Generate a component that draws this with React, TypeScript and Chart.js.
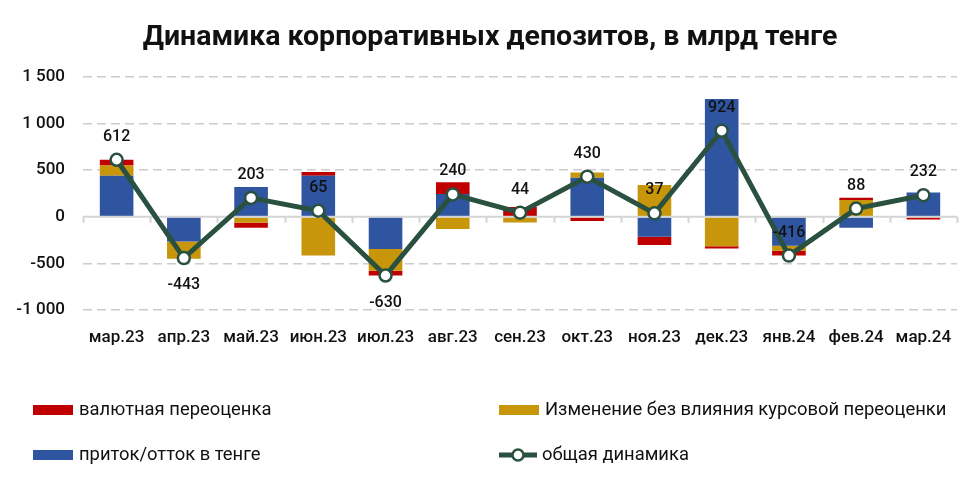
import React, { useEffect, useRef } from 'react';
import { Chart, registerables } from 'chart.js';

Chart.register(...registerables);

const chartTitle = 'Динамика корпоративных депозитов, в млрд тенге';
const categories = ['мар.23', 'апр.23', 'май.23', 'июн.23', 'июл.23', 'авг.23', 'сен.23', 'окт.23', 'ноя.23', 'дек.23', 'янв.24', 'фев.24', 'мар.24'];
const inflowKzt = [440, -265, 320, 440, -345, 245, 4, 420, -215, 1265, -310, -117, 262];
const changeExFx = [110, -185, -65, -415, -235, -130, -60, 55, 340, -315, -55, 180, 0];
const fxRevaluation = [62, 7, -52, 40, -50, 125, 100, -45, -88, -26, -51, 25, -30];
const totalDynamics = [612, -443, 203, 65, -630, 240, 44, 430, 37, 924, -416, 88, 232];
const labelBelow = [false, true, false, false, true, false, false, false, false, false, false, false, false];
const seriesNames = ['приток/отток в тенге', 'Изменение без влияния курсовой переоценки', 'валютная переоценка', 'общая динамика'];
const yMin = -1000;
const yMax = 1500;
const yStep = 500;

const RED = '#C00000';
const GOLD = '#C8960A';
const BLUE = '#2F55A0';
const GREEN = '#2A5140';
const FONT = 'Roboto, "Noto Sans", sans-serif';

function fmt(v: number): string {
  const s = Math.abs(v).toString().replace(/\B(?=(\d{3})+(?!\d))/g, ' ');
  return (v < 0 ? '-' : '') + s;
}

const customPlugin = {
  id: 'custom',
  beforeDatasetDraw(chart: any, args: any) {
    if (args.index !== 3) return;
    const { ctx, chartArea, scales } = chart;
    const y0 = scales.y.getPixelForValue(0);
    ctx.save();
    ctx.strokeStyle = '#D4D4D4';
    ctx.lineWidth = 2;
    ctx.beginPath();
    ctx.moveTo(chartArea.left, y0);
    ctx.lineTo(chartArea.right, y0);
    const n = categories.length;
    const w = (chartArea.right - chartArea.left) / n;
    for (let i = 0; i <= n; i++) {
      const x = Math.round(chartArea.left + i * w) + 0.5;
      ctx.moveTo(x, y0);
      ctx.lineTo(x, y0 + 6);
    }
    ctx.stroke();
    ctx.restore();
  },
  afterDraw(chart: any) {
    const { ctx, scales } = chart;
    ctx.save();
    // title
    ctx.fillStyle = '#111';
    ctx.font = 'bold 28.5px ' + FONT;
    ctx.textAlign = 'center';
    ctx.textBaseline = 'middle';
    ctx.fillText(chartTitle, 490, 38);
    // data labels
    ctx.font = '500 16px ' + FONT;
    ctx.fillStyle = '#111';
    totalDynamics.forEach((v, i) => {
      const x = scales.x.getPixelForValue(i);
      const y = scales.y.getPixelForValue(v);
      ctx.fillText(fmt(v), x, labelBelow[i] ? y + 27 : y - 23);
    });
    // legend
    ctx.textAlign = 'left';
    ctx.font = '18.4px ' + FONT;
    const items = [
      { x: 33, y: 410, color: RED, name: seriesNames[2], line: false },
      { x: 499, y: 410, color: GOLD, name: seriesNames[1], line: false },
      { x: 33, y: 455, color: BLUE, name: seriesNames[0], line: false },
      { x: 499, y: 455, color: GREEN, name: seriesNames[3], line: true },
    ];
    items.forEach((it) => {
      if (it.line) {
        ctx.strokeStyle = it.color;
        ctx.lineWidth = 5;
        ctx.beginPath();
        ctx.moveTo(it.x, it.y);
        ctx.lineTo(it.x + 38, it.y);
        ctx.stroke();
        ctx.beginPath();
        ctx.arc(it.x + 19, it.y, 5.5, 0, Math.PI * 2);
        ctx.fillStyle = '#fff';
        ctx.fill();
        ctx.lineWidth = 2.5;
        ctx.stroke();
        ctx.fillStyle = '#111';
        ctx.fillText(it.name, it.x + 43, it.y);
      } else {
        ctx.fillStyle = it.color;
        ctx.fillRect(it.x, it.y - 5, 40, 10);
        ctx.fillStyle = '#111';
        ctx.fillText(it.name, it.x + 46, it.y);
      }
    });
    ctx.restore();
  },
};

export default function App() {
  const ref = useRef<HTMLCanvasElement | null>(null);
  useEffect(() => {
    document.body.style.margin = '0';
    const canvas = ref.current;
    if (!canvas) return;
    const chart = new Chart(canvas, {
      type: 'bar',
      data: {
        labels: categories,
        datasets: [
          { type: 'bar', label: seriesNames[0], data: inflowKzt, backgroundColor: BLUE, stack: 'bars', order: 1, barPercentage: 1, categoryPercentage: 0.5 },
          { type: 'bar', label: seriesNames[1], data: changeExFx, backgroundColor: GOLD, stack: 'bars', order: 1, barPercentage: 1, categoryPercentage: 0.5 },
          { type: 'bar', label: seriesNames[2], data: fxRevaluation, backgroundColor: RED, stack: 'bars', order: 1, barPercentage: 1, categoryPercentage: 0.5 },
          {
            type: 'line', label: seriesNames[3], data: totalDynamics, stack: 'total', order: 0,
            borderColor: GREEN, borderWidth: 5, tension: 0,
            pointRadius: 6, pointBackgroundColor: '#fff', pointBorderColor: GREEN, pointBorderWidth: 2.5,
          },
        ],
      } as any,
      options: {
        animation: false,
        responsive: false,
        maintainAspectRatio: false,
        layout: { padding: { top: 77, right: 23, bottom: 132, left: 0 } },
        plugins: { legend: { display: false }, title: { display: false }, tooltip: { enabled: false } },
        scales: {
          x: {
            stacked: true,
            grid: { display: false },
            border: { display: false },
            ticks: { color: '#111', font: { family: FONT, size: 17, weight: '500' }, padding: 10, maxRotation: 0 },
            afterFit: (s: any) => { s.height = 40; },
          },
          y: {
            stacked: true,
            min: yMin,
            max: yMax,
            ticks: { stepSize: yStep, color: '#111', font: { family: FONT, size: 17, weight: '500' }, padding: 18, callback: (v: any) => fmt(Number(v)) },
            grid: { color: (c: any) => (c.tick && c.tick.value === 0 ? 'rgba(0,0,0,0)' : '#CCCCCC'), lineWidth: 1.5, drawTicks: false },
            border: { display: false, dash: [9, 5] },
            afterFit: (s: any) => { s.width = 83; },
          },
        },
      },
      plugins: [customPlugin],
    });
    return () => chart.destroy();
  }, []);
  return (
    <div style={{ width: 980, height: 482, background: '#fff' }}>
      <canvas ref={ref} width={980} height={482} style={{ display: 'block', width: 980, height: 482 }} />
    </div>
  );
}
